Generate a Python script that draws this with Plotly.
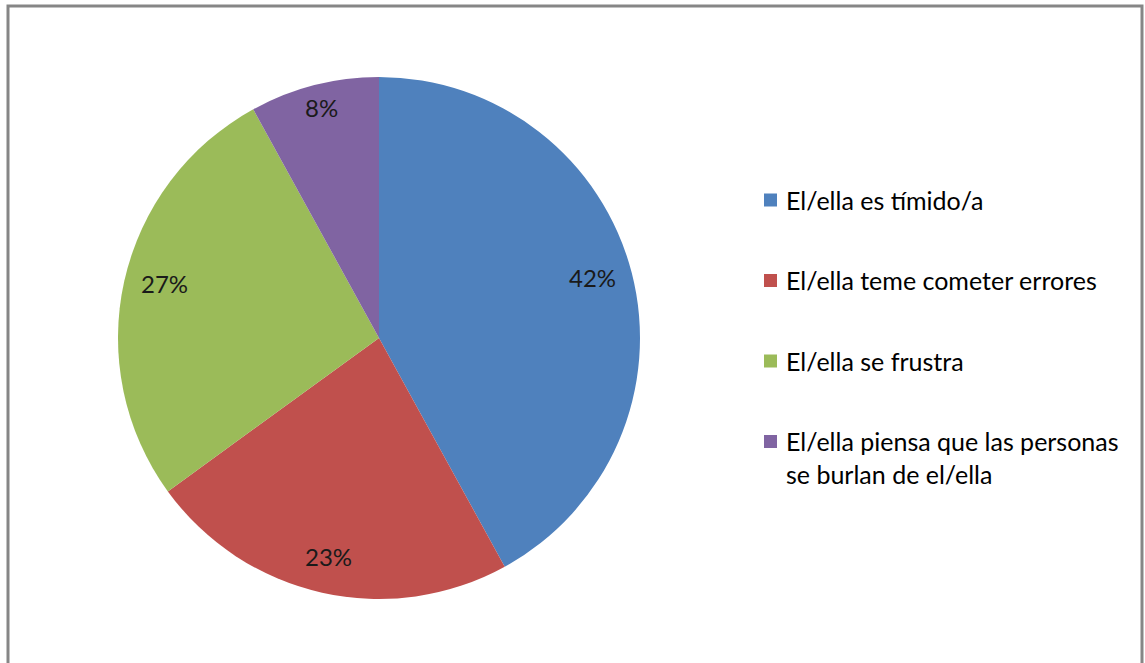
import math
import plotly.graph_objects as go

# Reasons given, share of responses (%)
labels = [
    "El/ella es tímido/a",
    "El/ella teme cometer errores",
    "El/ella se frustra",
    "El/ella piensa que las personas<br>se burlan de el/ella",
]
values = [42, 23, 27, 8]
colors = ["#4F81BD", "#C0504D", "#9BBB59", "#8064A2"]

W, H = 1145, 663
FONT = "Lato"
CX, CY, R = 379, 338, 261          # pie centre and radius, px
R_IN = 244                          # label boxes are kept inside this radius
PCT_SIZE, LEG_SIZE = 24, 25
TEXT_LIFT = 6                       # line box centre sits below the digit centre

fig = go.Figure(
    go.Pie(
        labels=labels,
        values=values,
        sort=False,
        direction="clockwise",
        rotation=0,
        marker=dict(colors=colors, line=dict(width=0)),
        textinfo="none",
        hoverinfo="label+percent",
        showlegend=False,
        domain=dict(x=[(CX - R) / W, (CX + R) / W], y=[1 - (CY + R) / H, 1 - (CY - R) / H]),
    )
)

# percentage labels: pushed out along each slice's mid angle until the
# text box touches the inner radius R_IN
total = sum(values)
annotations = []
cum = 0
for v in values:
    mid = (cum + v / 2) / total * 2 * math.pi
    cum += v
    txt = f"{round(v / total * 100)}%"
    hw = (14 * (len(txt) - 1) + 17) / 2
    hh = 8.5
    s, c = abs(math.sin(mid)), abs(math.cos(mid))
    b = hw * s + hh * c
    r = -b + math.sqrt(b * b - (hw * hw + hh * hh - R_IN * R_IN))
    px = CX + r * math.sin(mid)
    py = CY - r * math.cos(mid) - TEXT_LIFT
    annotations.append(dict(
        x=px / W, y=1 - py / H, xref="paper", yref="paper",
        xanchor="center", yanchor="middle",
        text=txt, showarrow=False,
        font=dict(family=FONT, size=PCT_SIZE, color="#1a1a1a"),
    ))

# legend: coloured square plus text for each category
shapes = []
LEG_X, LEG_Y0, LEG_DY, SQ = 764, 200, 80.5, 13
for i, (lab, col) in enumerate(zip(labels, colors)):
    yc = LEG_Y0 + i * LEG_DY
    shapes.append(dict(
        type="rect", xref="paper", yref="paper",
        x0=LEG_X / W, x1=(LEG_X + SQ) / W,
        y0=1 - (yc + SQ / 2) / H, y1=1 - (yc - SQ / 2) / H,
        fillcolor=col, line=dict(width=0),
    ))
    annotations.append(dict(
        x=(LEG_X + SQ + 7) / W, y=1 - (yc - 17) / H, xref="paper", yref="paper",
        xanchor="left", yanchor="top", align="left",
        text=lab, showarrow=False,
        font=dict(family=FONT, size=LEG_SIZE, color="#000000"),
    ))

# chart-area frame
shapes.append(dict(
    type="rect", xref="paper", yref="paper",
    x0=8 / W, x1=1142 / W, y0=-0.05, y1=1 - 6 / H,
    line=dict(color="#868686", width=3), fillcolor="rgba(0,0,0,0)",
))

fig.update_layout(
    width=W, height=H,
    margin=dict(l=0, r=0, t=0, b=0),
    paper_bgcolor="white",
    plot_bgcolor="white",
    shapes=shapes,
    annotations=annotations,
)

fig.write_html("out.html")
